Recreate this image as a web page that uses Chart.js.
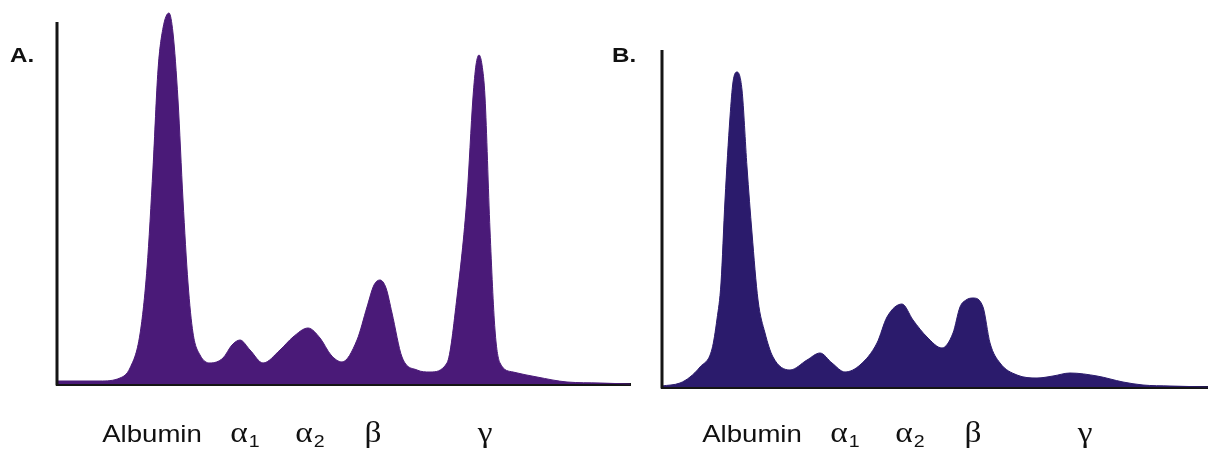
<!DOCTYPE html>
<html><head><meta charset="utf-8">
<script src="https://cdn.jsdelivr.net/npm/chart.js@4.4.1/dist/chart.umd.min.js"></script>
<style>
html,body{margin:0;padding:0;background:#fff;}
#wrap{position:relative;width:1208px;height:453px;overflow:hidden;background:#fff;}
#cA{position:absolute;left:0;top:0;}
#cB{position:absolute;left:600px;top:0;}
</style></head><body>
<div id="wrap"><canvas id="cA" width="640" height="453"></canvas><canvas id="cB" width="608" height="453"></canvas></div>
<script>
// Fractions (category labels) and their mobility positions on each panel's x scale
const fractions = ['Albumin', 'α1', 'α2', 'β', 'γ'];
const fractionMobilityA = [95, 188, 253, 316, 428];
const fractionMobilityB = [90, 183, 248, 311, 423];

// Panel A densitometry trace (mobility, relative density)
const mobilityA = [0,43,63,73,83,90,96,101,106,112,116,121,126,131,136,143,153,166,175,183,193,206,223,236,251,263,274,285,300,310,317,323,329,335,345,360,373,390,400,410,416,419,422,425,428,433,438,443,456,480,510,543,573];
const densityA  = [3,3,6,16,50,116,216,314,356,371,351,284,184,101,51,29,21,26,39,44,34,21,34,47,56,46,29,22,44,77,99,104,96,71,27,14,12,21,87,187,287,319,329,319,287,154,54,21,12,7,2,1,0];

// Panel B densitometry trace
const mobilityB = [0,18,28,38,50,55,59,63,68,71,75,80,85,90,96,103,111,128,145,158,170,183,198,215,225,240,251,265,280,291,298,304,311,321,328,338,355,375,391,408,435,461,481,508,546];
const densityB  = [1,4,10,20,38,68,104,187,270,305,315,297,220,154,87,54,30,17,27,34,24,15,22,44,70,83,67,50,39,54,80,87,89,80,44,24,12,9,11,14,11,5,2,1,0];

// y-axis extent (top of drawn axis) and x-axis extent, in data units
const axisMaxA = 362, mobilityMaxA = 573;
const axisMaxB = 337, mobilityMaxB = 546;

const SX = 1.15; // horizontal text stretch of the original artwork

function drawStretched(ctx, text, x, y, align) {
  ctx.save();
  ctx.translate(x, y);
  ctx.scale(SX, 1);
  ctx.textAlign = align;
  ctx.fillText(text, 0, 0);
  ctx.restore();
}

function decorPlugin(panelLetter, letterX, positions, axisMax) {
  return {
    id: 'decor' + panelLetter,
    afterDatasetsDraw(chart) {
      // y-axis line from 0 to axisMax, via the library's scales
      const ctx = chart.ctx, xs = chart.scales.x, ys = chart.scales.y;
      ctx.save();
      ctx.strokeStyle = '#151515';
      ctx.lineWidth = 3;
      ctx.beginPath();
      ctx.moveTo(xs.getPixelForValue(0), ys.getPixelForValue(0) + 1.5);
      ctx.lineTo(xs.getPixelForValue(0), ys.getPixelForValue(axisMax));
      ctx.stroke();
      ctx.restore();
    },
    afterDraw(chart) {
      const ctx = chart.ctx;
      const xs = chart.scales.x;
      ctx.save();
      ctx.fillStyle = '#111';
      ctx.textBaseline = 'alphabetic';
      ctx.font = 'bold 21px "Liberation Sans", Arial, sans-serif';
      drawStretched(ctx, panelLetter + '.', letterX, 62, 'left');
      const base = 442;
      fractions.forEach((f, i) => {
        const px = xs.getPixelForValue(positions[i]);
        if (f === 'Albumin') {
          ctx.font = '24px "Liberation Sans", Arial, sans-serif';
          drawStretched(ctx, f, px, base, 'center');
        } else {
          const main = f[0], sub = f.slice(1);
          const mainFont = '29px "Liberation Serif", "Times New Roman", serif';
          const subFont = '17px "Liberation Sans", Arial, sans-serif';
          ctx.font = mainFont;
          const w1 = ctx.measureText(main).width * SX;
          ctx.font = subFont;
          const w2 = sub ? ctx.measureText(sub).width * SX + 1 : 0;
          const start = px - (w1 + w2) / 2;
          ctx.font = mainFont;
          drawStretched(ctx, main, start, base, 'left');
          if (sub) {
            ctx.font = subFont;
            drawStretched(ctx, sub, start + w1 + 1, base + 5, 'left');
          }
        }
      });
      ctx.restore();
    }
  };
}

function makeChart(id, mob, dens, color, xMax, yMax, axisMax, padding, letter, letterX, positions) {
  const pts = mob.map((m, i) => ({x: m, y: dens[i]}));
  return new Chart(document.getElementById(id), {
    type: 'line',
    data: { datasets: [{
      data: pts,
      borderColor: color,
      backgroundColor: color,
      borderWidth: 1,
      fill: 'origin',
      pointRadius: 0,
      cubicInterpolationMode: 'monotone',
      clip: false
    }]},
    options: {
      responsive: false,
      animation: false,
      events: [],
      layout: { padding },
      plugins: { legend: {display: false}, tooltip: {enabled: false}, title: {display: false} },
      scales: {
        x: {
          type: 'linear', min: 0, max: xMax, z: 1,
          ticks: {display: false}, grid: {display: false, drawTicks: false},
          border: {display: true, color: '#151515', width: 3},
          afterFit: s => { s.height = 0; }
        },
        y: {
          type: 'linear', min: 0, max: yMax,
          ticks: {display: false}, grid: {display: false, drawTicks: false},
          border: {display: false},
          afterFit: s => { s.width = 0; }
        }
      }
    },
    plugins: [decorPlugin(letter, letterX, positions, axisMax)]
  });
}

// Plot area extends above the drawn y-axis so the albumin peak is not clipped
makeChart('cA', mobilityA, densityA, '#4a1a78', mobilityMaxA, 374, axisMaxA,
  {left: 57, top: 10, right: 10, bottom: 69}, 'A', 10, fractionMobilityA);
makeChart('cB', mobilityB, densityB, '#2b1b6c', mobilityMaxB, 377, axisMaxB,
  {left: 62, top: 10, right: 0, bottom: 66}, 'B', 12, fractionMobilityB);
</script>
</body></html>
